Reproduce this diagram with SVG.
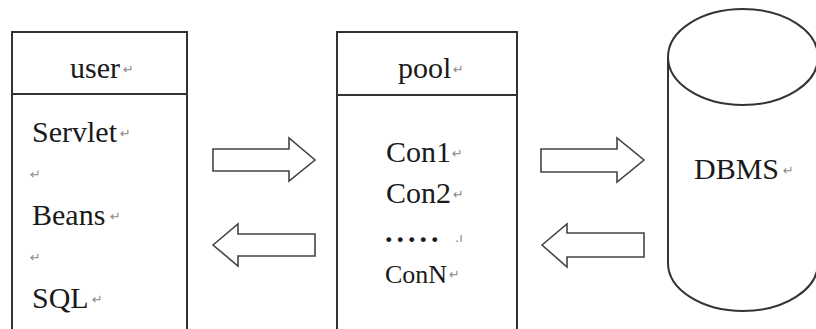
<svg xmlns="http://www.w3.org/2000/svg" width="816" height="329" viewBox="0 0 816 329">
<style>
.ln{stroke:#333;stroke-width:2;fill:none}
.t{font-size:30px;fill:#1a1a1a}
.ts{font-size:26px;fill:#1a1a1a}
.pm{font-family:'DejaVu Sans',sans-serif;font-size:13px;fill:#8a8a8a}
.arrow{fill:#fff;stroke:#444;stroke-width:1.6;stroke-linejoin:miter}
</style>
<rect width="816" height="329" fill="#fff"/>
<g id="user" font-family="Liberation Serif, Tinos, Times New Roman, Times, Noto Serif, DejaVu Serif, FreeSerif, serif">
<path class="ln" d="M12,331 V32 H187 V331"/>
<line class="ln" x1="12" y1="94" x2="187" y2="94"/>
<text class="t" x="70" y="78">user</text><text class="pm" x="123" y="74">↵</text>
<text class="t" x="32" y="142">Servlet</text><text class="pm" x="120" y="138">↵</text>
<text class="pm" x="30" y="179">↵</text>
<text class="t" x="32" y="225">Beans</text><text class="pm" x="110" y="221">↵</text>
<text class="pm" x="30" y="262">↵</text>
<text class="t" x="32" y="308">SQL</text><text class="pm" x="92" y="304">↵</text>
</g>
<g id="pool" font-family="Liberation Serif, Tinos, Times New Roman, Times, Noto Serif, DejaVu Serif, FreeSerif, serif">
<path class="ln" d="M337,331 V32 H517 V331"/>
<line class="ln" x1="337" y1="95" x2="517" y2="95"/>
<text class="t" x="398" y="78">pool</text><text class="pm" x="453" y="74">↵</text>
<text class="t" x="386" y="162">Con1</text><text class="pm" x="452" y="158">↵</text>
<text class="t" x="386" y="203">Con2</text><text class="pm" x="453" y="199">↵</text>
<text class="t" x="385" y="242" font-weight="bold" letter-spacing="4">.....</text><text class="pm" x="455" y="242" font-size="9">.ı</text>
<text class="ts" x="385" y="283">ConN</text><text class="pm" x="449" y="279">↵</text>
</g>
<g id="dbms" font-family="Liberation Serif, Tinos, Times New Roman, Times, Noto Serif, DejaVu Serif, FreeSerif, serif">
<path class="ln" d="M668,57 V263 A75,48 0 0 0 818,263 V57"/>
<ellipse class="ln" cx="743" cy="57" rx="75" ry="48"/>
<text class="t" x="694" y="179">DBMS</text><text class="pm" x="783" y="175">↵</text>
</g>
<g id="connectors">
<polygon class="arrow" points="213,149 289,149 289,138 315,160 289,181 289,171 213,171"/>
<polygon class="arrow" points="213,245 238,224 238,234 315,234 315,256 238,256 238,266"/>
<polygon class="arrow" points="541,149 617,149 617,138 644,160 617,182 617,172 541,172"/>
<polygon class="arrow" points="542,245 567,224 567,233 644,233 644,257 567,257 567,267"/>
</g>
</svg>
